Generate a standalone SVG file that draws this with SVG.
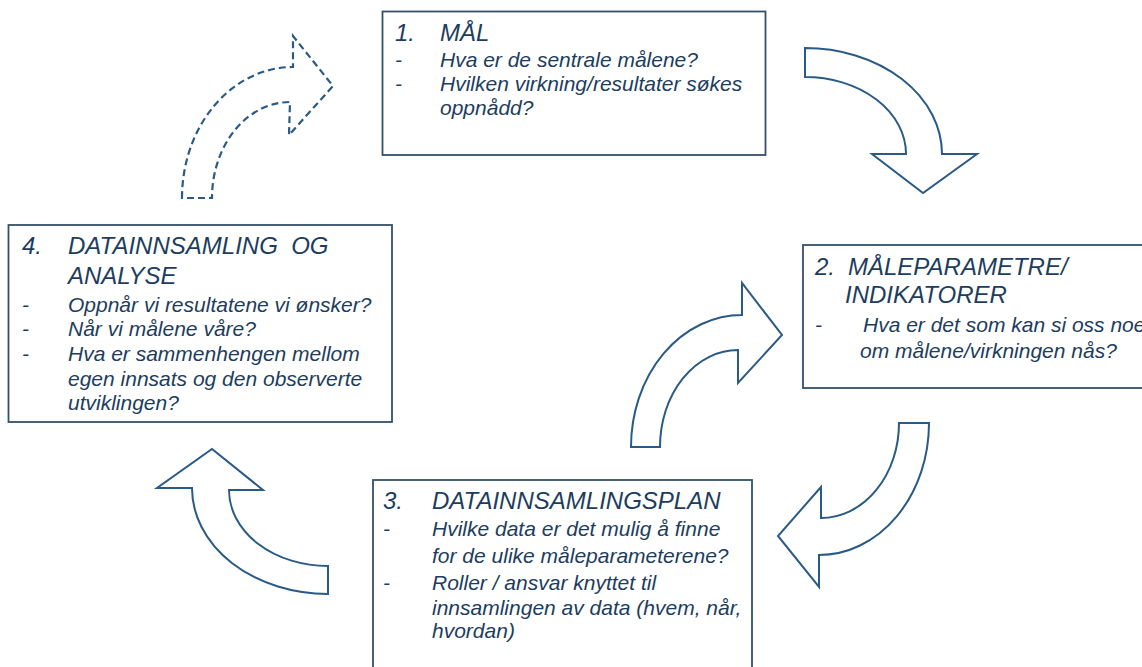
<svg xmlns="http://www.w3.org/2000/svg" width="1142" height="667" viewBox="0 0 1142 667">
<style>
.box{fill:#fff;stroke:#34506a;stroke-width:1.8}
.arr{fill:#fff;stroke:#2a5a86;stroke-width:2;stroke-linejoin:miter}
.dash{stroke-dasharray:7,4;stroke-width:2.2}
text{font-family:"Liberation Sans",Arial,sans-serif;font-style:italic;fill:#1d3d60}
.t{font-size:24px}
.b{font-size:21px}
</style>
<rect width="1142" height="667" fill="#fff"/>
<g id="connectors">
<path class="arr" d="M805,48 A137,106 0 0 1 942,154 L977,154 L923,193 L872,154 L906,154 A101,77 0 0 0 805,77 Z"/>
<path class="arr" d="M899,423 L929,423 A110,132 0 0 1 819,555 L819,587 L778,536 L821,487 L821,518 A78,95 0 0 0 899,423 Z"/>
<path class="arr" d="M631,447 A111,132 0 0 1 742,315 L742,283 L782,335 L738,383 L738,350 A78,97 0 0 0 660,447 Z"/>
<path class="arr" d="M328,594 A136,106 0 0 1 192,488 L157,488 L212,449 L263,490 L229,490 A99,76 0 0 0 328,566 Z"/>
<path class="arr dash" d="M182,198 A111,131 0 0 1 293,67 L293,36 L333,86 L289,135 L290,102 A78,96 0 0 0 212,198 Z"/>
</g>
<g id="node1">
<rect class="box" x="382.5" y="11.5" width="383" height="143.5"/>
<text class="t" x="395" y="41">1.</text>
<text class="t" x="440" y="41">MÅL</text>
<text class="b" x="395" y="67">-</text>
<text class="b" x="440" y="67">Hva er de sentrale målene?</text>
<text class="b" x="395" y="91">-</text>
<text class="b" x="440" y="91">Hvilken virkning/resultater søkes</text>
<text class="b" x="440" y="115">oppnådd?</text>
</g>
<g id="node2">
<rect class="box" x="803" y="245" width="360" height="143"/>
<text class="t" x="815" y="275">2.</text>
<text class="t" x="848" y="275">MÅLEPARAMETRE/</text>
<text class="t" x="845" y="303">INDIKATORER</text>
<text class="b" x="815" y="332">-</text>
<text class="b" x="863" y="332">Hva er det som kan si oss noe</text>
<text class="b" x="860" y="358">om målene/virkningen nås?</text>
</g>
<g id="node3">
<rect class="box" x="373" y="480" width="379" height="210"/>
<text class="t" x="383" y="509">3.</text>
<text class="t" x="432" y="509">DATAINNSAMLINGSPLAN</text>
<text class="b" x="383" y="536">-</text>
<text class="b" x="432" y="536">Hvilke data er det mulig å finne</text>
<text class="b" x="432" y="563">for de ulike måleparameterene?</text>
<text class="b" x="383" y="590">-</text>
<text class="b" x="432" y="590">Roller / ansvar knyttet til</text>
<text class="b" x="432" y="615">innsamlingen av data (hvem, når,</text>
<text class="b" x="432" y="638">hvordan)</text>
</g>
<g id="node4">
<rect class="box" x="8.5" y="225" width="383.5" height="197"/>
<text class="t" x="22" y="254">4.</text>
<text class="t" x="68" y="254" xml:space="preserve">DATAINNSAMLING  OG</text>
<text class="t" x="68" y="284">ANALYSE</text>
<text class="b" x="22" y="312">-</text>
<text class="b" x="68" y="312">Oppnår vi resultatene vi ønsker?</text>
<text class="b" x="22" y="336">-</text>
<text class="b" x="68" y="336">Når vi målene våre?</text>
<text class="b" x="22" y="361">-</text>
<text class="b" x="68" y="361">Hva er sammenhengen mellom</text>
<text class="b" x="68" y="386">egen innsats og den observerte</text>
<text class="b" x="68" y="410">utviklingen?</text>
</g>
</svg>
